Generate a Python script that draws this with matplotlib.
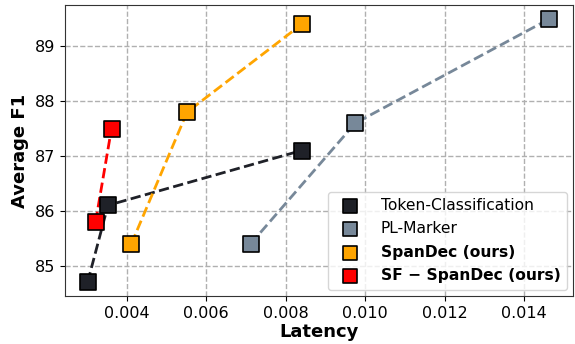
import matplotlib
matplotlib.use("Agg")
import matplotlib.pyplot as plt

# latency (s) vs average F1
tok_lat = [0.00302, 0.00353, 0.00840]
tok_f1 = [84.7, 86.1, 87.1]
plm_lat = [0.00712, 0.00975, 0.01463]
plm_f1 = [85.4, 87.6, 89.5]
span_lat = [0.00412, 0.00552, 0.00840]
span_f1 = [85.4, 87.8, 89.4]
sf_lat = [0.00322, 0.00362]
sf_f1 = [85.8, 87.5]

SERIES = [(tok_lat, tok_f1, "#1f2128", "Token-Classification", "normal"),
          (plm_lat, plm_f1, "#778899", "PL-Marker", "normal"),
          (span_lat, span_f1, "#ffa500", "SpanDec (ours)", "bold"),
          (sf_lat, sf_f1, "#ff0000", "SF \u2212 SpanDec (ours)", "bold")]

fig, ax = plt.subplots(figsize=(5.75, 3.44), dpi=100)
fig.subplots_adjust(left=0.113, right=0.997, top=0.985, bottom=0.14)
for x, y, c, lab, w in SERIES:
    ax.plot(x, y, ls="--", lw=2, color=c, zorder=2)
    ax.scatter(x, y, marker="s", s=120, c=c, edgecolors="black", linewidths=1.2, zorder=3, label=lab)

ax.set_xlim(0.00245, 0.01523)
ax.set_ylim(84.45, 89.75)
ax.set_xticks([0.004, 0.006, 0.008, 0.010, 0.012, 0.014])
ax.set_yticks([85, 86, 87, 88, 89])
ax.tick_params(labelsize=11.5)
for s in ax.spines.values():
    s.set_edgecolor("#333333")
ax.grid(True, ls="--", color="#b0b0b0", lw=1)
ax.set_axisbelow(True)
ax.set_xlabel("Latency", fontsize=13, fontweight="bold", labelpad=2)
ax.set_ylabel("Average F1", fontsize=13, fontweight="bold")
leg = ax.legend(loc="lower right", fontsize=11.2, markerscale=0.88, handletextpad=1.0,
                borderaxespad=0.4, labelspacing=0.55)
for t, (_, _, _, _, w) in zip(leg.get_texts(), SERIES):
    t.set_fontweight(w)
fig.savefig("out.png", dpi=100)
